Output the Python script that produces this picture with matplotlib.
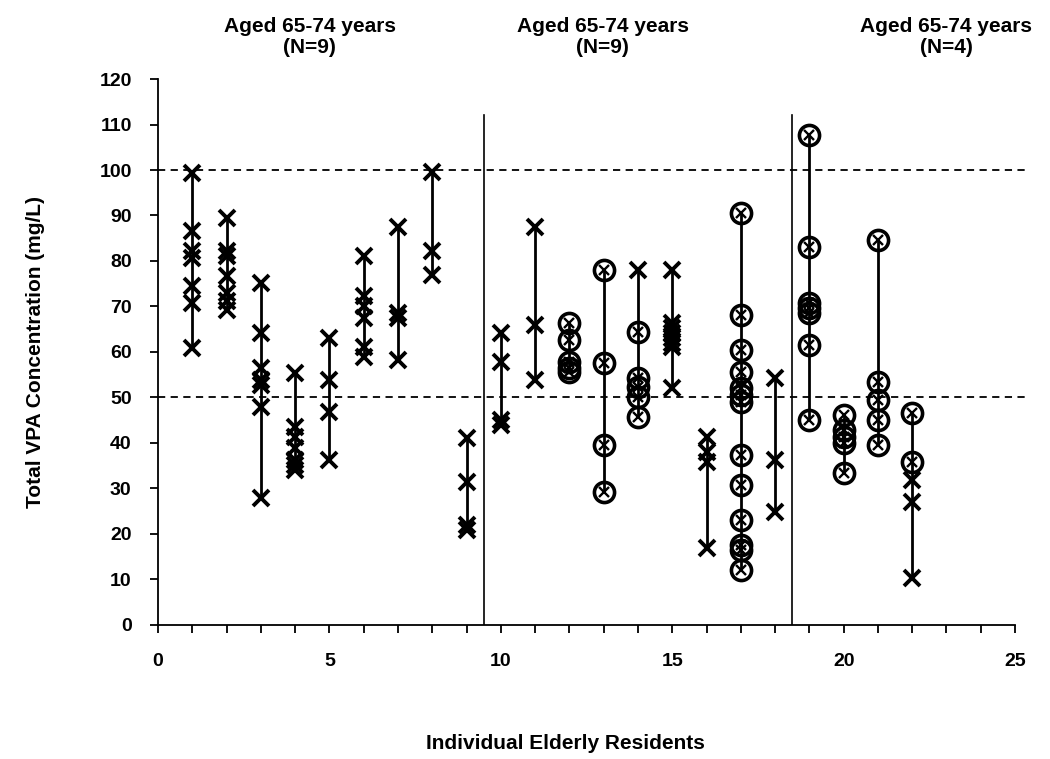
import matplotlib
matplotlib.use("Agg")
import matplotlib.pyplot as plt
from matplotlib.ticker import MultipleLocator

plt.rcParams['font.family'] = ['Liberation Sans', 'DejaVu Sans']
plt.rcParams['font.weight'] = 'bold'

# Residents 1-22, total VPA concentrations (mg/L)
# plain "x" samples
x_values = {
    1: [99.3, 86.5, 82.1, 80.6, 74.4, 70.7, 60.8],
    2: [89.4, 82.1, 81.0, 76.6, 72.9, 71.1, 69.2],
    3: [75.1, 64.1, 56.4, 53.8, 52.7, 48.0, 27.8],
    4: [55.3, 43.6, 41.4, 38.8, 36.3, 35.2, 34.1],
    5: [63.0, 53.8, 46.9, 36.3],
    6: [81.0, 72.2, 70.0, 67.4, 61.2, 59.0],
    7: [87.5, 68.5, 67.4, 58.2],
    8: [99.6, 82.1, 76.9],
    9: [41.0, 31.5, 22.0, 20.9],
    10: [64.1, 57.9, 45.1, 44.0],
    11: [87.5, 65.9, 53.8],
    14: [78.0],
    15: [78.0, 66.3, 65.2, 64.1, 63.0, 61.9, 61.2, 52.0],
    16: [41.4, 38.1, 35.9, 16.9],
    18: [54.2, 36.3, 24.9],
    22: [31.9, 27.1, 10.3],
}

# circled "x" samples
circle_values = {
    12: [66.3, 62.6, 57.9, 56.4, 55.7],
    13: [78.0, 57.5, 39.6, 29.3],
    14: [64.5, 54.2, 52.4, 50.2, 45.8],
    17: [90.5, 68.1, 60.4, 55.7, 52.0, 50.5, 49.1, 37.4, 30.8, 23.1, 17.6, 16.5, 12.1],
    19: [107.7, 83.1, 70.7, 69.6, 68.5, 61.5, 45.1],
    20: [46.2, 42.9, 41.4, 39.9, 33.3],
    21: [84.6, 53.5, 49.5, 45.1, 39.6],
    22: [46.5, 35.9],
}

group_titles = ["Aged 65-74 years\n(N=9)", "Aged 65-74 years\n(N=9)", "Aged 65-74 years\n(N=4)"]
group_title_x = [0.295, 0.574, 0.901]
dividers = [9.5, 18.5]
reference_levels = [50, 100]

fig = plt.figure(figsize=(10.5, 7.59), dpi=100)
ax = fig.add_axes([0.1505, 0.1766, 0.8162, 0.7193])

residents = sorted(set(x_values) | set(circle_values))
for r in residents:
    vals = x_values.get(r, []) + circle_values.get(r, [])
    ax.plot([r, r], [min(vals), max(vals)], color='black', lw=2.0, zorder=2)

for r, vals in x_values.items():
    ax.plot([r] * len(vals), vals, linestyle='none', marker='x', ms=11,
            mew=2.8, color='black', zorder=3)

for r, vals in circle_values.items():
    ax.plot([r] * len(vals), vals, linestyle='none', marker='o', ms=14.5,
            mew=2.6, mfc='none', mec='black', zorder=3)
    ax.plot([r] * len(vals), vals, linestyle='none', marker='x', ms=6.5,
            mew=1.7, color='black', zorder=3)

for level in reference_levels:
    ax.plot([0, 25.3], [level, level], color='black', lw=1.3,
            linestyle=(0, (4, 3)), clip_on=False, zorder=1)

for d in dividers:
    ax.plot([d, d], [0, 112], color='black', lw=1.2, zorder=1)

ax.set_xlim(0, 25)
ax.set_ylim(0, 120)
ax.xaxis.set_major_locator(MultipleLocator(5))
ax.xaxis.set_minor_locator(MultipleLocator(1))
ax.yaxis.set_major_locator(MultipleLocator(10))

for side in ['top', 'right']:
    ax.spines[side].set_visible(False)
for side in ['left', 'bottom']:
    ax.spines[side].set_linewidth(1.3)

ax.tick_params(axis='both', which='both', direction='out', length=6,
               width=1.3, labelsize=14)
ax.tick_params(axis='x', which='both', pad=14)
ax.tick_params(axis='y', pad=13)

ax.set_xlabel('Individual Elderly Residents', fontsize=15, fontweight='bold')
ax.xaxis.set_label_coords(0.475, -0.2)
ax.set_ylabel('Total VPA Concentration (mg/L)', fontsize=15, fontweight='bold')
ax.yaxis.set_label_coords(-0.132, 0.5)

for title, tx in zip(group_titles, group_title_x):
    fig.text(tx, 0.951, title, ha='center', va='center', fontsize=15,
             fontweight='bold', linespacing=1.15)

fig.savefig('out.png', dpi=100)
